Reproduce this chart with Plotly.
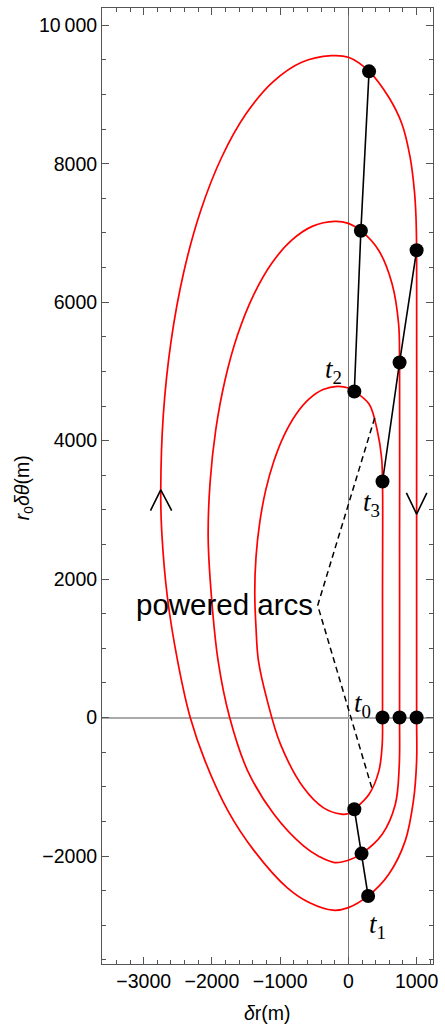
import plotly.graph_objects as go

# Three relative-motion loops (δr, r0δθ in metres), traced in the direction of motion:
# t0 -> powered arc -> t1 -> coast arc -> t2 -> powered arc -> t3 -> straight drift back to t0
inner_dr = [500, 496, 447, 303, 87, 0, -105, -369, -658, -996, -1188, -1318, -1354, -1372,
            -1354, -1299, -1210, -1088, -939, -766, -575, -370, -160, 0, 87, 303, 424, 486,
            500, 500, 500]
inner_dth = [0, -384, -770, -1107, -1324, -1387, -1396, -1301, -1012, -384, 241, 819, 1300, 1800,
             2318, 2820, 3292, 3717, 4085, 4383, 4603, 4738, 4783, 4760, 4711, 4529, 4143, 3757,
             3410, 1700, 0]

middle_dr = [750, 745, 688, 496, 193, 0, -202, -425, -658, -1091, -1476, -1740, -1909, -2006,
             -2055, -2027, -1943, -1806, -1621, -1392, -1128, -834, -522, -200, 0, 183, 447,
             641, 736, 750, 750, 750]
middle_dth = [0, -700, -1251, -1685, -1965, -2061, -2095, -2010, -1854, -1396, -770, 0, 819, 1734,
              2600, 3393, 4162, 4884, 5536, 6099, 6556, 6893, 7099, 7168, 7139, 7033, 6744,
              6263, 5685, 5130, 2600, 0]

outer_dr = [1000, 1000, 953, 833, 592, 289, 0, -225, -560, -899, -1380, -1765, -2101, -2318,
            -2503, -2652, -2736, -2750, -2712, -2599, -2415, -2165, -1857, -1500, -1105, -684,
            -250, 0, 303, 592, 785, 905, 967, 991, 1000, 1000, 1000]
outer_dth = [0, -626, -1204, -1781, -2263, -2577, -2746, -2783, -2680, -2457, -1926, -1348, -626, 0,
             819, 1734, 2698, 3290, 4379, 5435, 6426, 7321, 8094, 8721, 9183, 9466,
             9561, 9538, 9335, 8960, 8575, 8092, 7611, 7225, 6750, 3400, 0]

# Manoeuvre epochs on each loop (inner, middle, outer)
t0_dr, t0_dth = [500, 750, 1000], [0, 0, 0]
t1_dr, t1_dth = [87, 193, 289], [-1324, -1965, -2577]
t2_dr, t2_dth = [87, 183, 303], [4711, 7033, 9335]
t3_dr, t3_dth = [500, 750, 1000], [3410, 5130, 6750]

# Leader lines from the "powered arcs" label
leader_dr = [385, -450, 342]
leader_dth = [4327, 1620, -1012]

# Direction chevrons
chev_up_dr, chev_up_dth = [-2900, -2750, -2590], [2990, 3290, 2990]
chev_dn_dr, chev_dn_dth = [850, 1000, 1150], [3245, 2940, 3245]

# Epoch labels
epoch_names = ["0", "1", "2", "3"]
epoch_lab_dr = [210, 428, -215, 342]
epoch_lab_dth = [175, -3010, 5010, 3090]

# Frame tick labels
x_tick_vals = [-3000, -2000, -1000, 0, 1000]
x_tick_text = ["\u22123000", "\u22122000", "\u22121000", "0", "1000"]
y_tick_vals = [-2000, 0, 2000, 4000, 6000, 8000, 10000]
y_tick_text = ["\u22122000", "0", "2000", "4000", "6000", "8000", "10\u2009000"]

RED = "#ff0000"
fig = go.Figure()

for xs, ys in [(inner_dr, inner_dth), (middle_dr, middle_dth), (outer_dr, outer_dth)]:
    fig.add_trace(go.Scatter(x=xs, y=ys, mode="lines",
                             line=dict(color=RED, width=1.7, shape="spline", smoothing=1.0),
                             hoverinfo="skip"))

fig.add_trace(go.Scatter(x=leader_dr, y=leader_dth, mode="lines",
                         line=dict(color="black", width=1.5, dash="6px,4px")))

for xs, ys in [(chev_up_dr, chev_up_dth), (chev_dn_dr, chev_dn_dth)]:
    fig.add_trace(go.Scatter(x=xs, y=ys, mode="lines", line=dict(color="black", width=1.6)))

for xs, ys in [(t1_dr, t1_dth), (t2_dr, t2_dth), (t3_dr, t3_dth)]:
    fig.add_trace(go.Scatter(x=xs, y=ys, mode="lines", line=dict(color="black", width=1.6)))

for xs, ys in [(t0_dr, t0_dth), (t1_dr, t1_dth), (t2_dr, t2_dth), (t3_dr, t3_dth)]:
    fig.add_trace(go.Scatter(x=xs, y=ys, mode="markers",
                             marker=dict(color="black", size=14, line=dict(width=0))))

for name, lx, ly in zip(epoch_names, epoch_lab_dr, epoch_lab_dth):
    fig.add_annotation(x=lx, y=ly, text=f"<i>t</i><sub>{name}</sub>", showarrow=False,
                       xanchor="center", yanchor="middle",
                       font=dict(family="Liberation Serif", size=27, color="black"))

fig.add_annotation(x=-490, y=1640, text="powered arcs", showarrow=False,
                   xanchor="right", yanchor="middle",
                   font=dict(family="Liberation Sans", size=29.5, color="black"))

# Axis titles
fig.add_annotation(x=0.5, y=-0.051, xref="paper", yref="paper", text="<i>δ</i>r(m)",
                   showarrow=False, xanchor="center", yanchor="middle",
                   font=dict(family="Liberation Sans", size=19.5, color="black"))
fig.add_annotation(x=-0.235, y=0.498, xref="paper", yref="paper",
                   text="<i>r</i><sub>0</sub><i>δθ</i>(m)", textangle=-90,
                   showarrow=False, xanchor="center", yanchor="middle",
                   font=dict(family="Liberation Sans", size=19.5, color="black"))

axis_common = dict(
    showgrid=False, showline=True, linecolor="#555", linewidth=1, mirror="allticks",
    ticks="inside", ticklen=7, tickwidth=1, tickcolor="#555", tickmode="array",
    tickfont=dict(family="Liberation Sans", size=19.5, color="black"),
    zeroline=True,
)

fig.update_xaxes(range=[-3611, 1240], tickvals=x_tick_vals, ticktext=x_tick_text,
                 minor=dict(tickmode="linear", tick0=0, dtick=200, ticklen=4,
                            tickcolor="#555", ticks="inside"),
                 zerolinecolor="#777", zerolinewidth=1, **axis_common)
fig.update_yaxes(range=[-3560, 10250], tickvals=y_tick_vals, ticktext=y_tick_text,
                 minor=dict(tickmode="linear", tick0=0, dtick=500, ticklen=4,
                            tickcolor="#555", ticks="inside"),
                 zerolinecolor="#aaa", zerolinewidth=1.5, **axis_common)

fig.update_layout(
    width=445, height=1025,
    margin=dict(l=102, r=7, t=7, b=61),
    paper_bgcolor="white", plot_bgcolor="white",
    showlegend=False,
)

fig.write_html("out.html")
